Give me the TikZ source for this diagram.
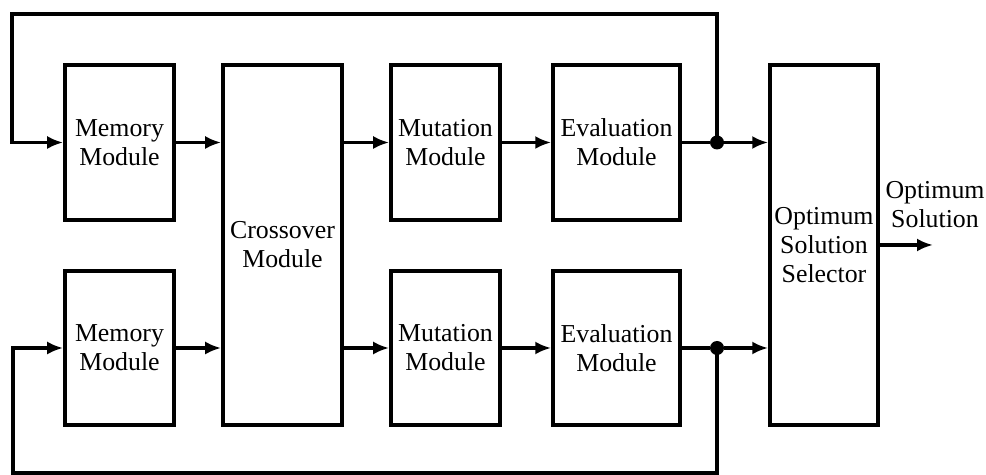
\documentclass[tikz,border=0pt]{standalone}
\usepackage{fontspec}
\setmainfont{Liberation Serif}
\usetikzlibrary{arrows.meta,positioning,calc}
\tikzset{
    block/.style={draw, line width=2pt, align=center, inner sep=1pt,
        font=\fontsize{14.7}{16.5}\selectfont},
    flow/.style={line width=1.9pt, -{Latex[length=3.2mm,width=2.6mm]}},
    wire/.style={line width=1.8pt},
    junction/.style={circle, fill, inner sep=0pt, minimum size=2.8mm}
}
\begin{document}
\begin{tikzpicture}
    \useasboundingbox (0,0) rectangle (19.72,9.5);

    % modules
    \node [block, minimum width=2.18cm, minimum height=3.1cm] (mem1) at (2.39,6.65) {Memory\\Module};
    \node [block, minimum width=2.18cm, minimum height=3.08cm] (mem2) at (2.39,2.54) {Memory\\Module};
    \node [block, minimum width=2.38cm, minimum height=7.2cm] (cross) at (5.65,4.6) {Crossover\\Module};
    \node [block, minimum width=2.18cm, minimum height=3.1cm] (mut1) at (8.91,6.65) {Mutation\\Module};
    \node [block, minimum width=2.18cm, minimum height=3.08cm] (mut2) at (8.91,2.54) {Mutation\\Module};
    \node [block, minimum width=2.54cm, minimum height=3.1cm] (eval1) at (12.33,6.65) {Evaluation\\Module};
    \node [block, minimum width=2.54cm, minimum height=3.08cm] (eval2) at (12.33,2.54) {Evaluation\\Module};
    \node [block, minimum width=2.16cm, minimum height=7.2cm] (sel) at (16.48,4.6) {Optimum\\Solution\\Selector};

    % junctions
    \node [junction] (j1) at (14.34,6.65) {};
    \node [junction] (j2) at (14.34,2.54) {};

    % output
    \coordinate (out) at (18.66,4.6);
    \node [align=center, font=\fontsize{14.7}{16.5}\selectfont, above=6pt of out, xshift=0.04cm] (outlabel) {Optimum\\Solution};

    % forward paths
    \draw [flow] (mem1) -- (mem1 -| cross.west);
    \draw [flow] (mem2) -- (mem2 -| cross.west);
    \draw [flow] (cross.east |- mut1) -- (mut1);
    \draw [flow] (cross.east |- mut2) -- (mut2);
    \draw [flow] (mut1) -- (eval1);
    \draw [flow] (mut2) -- (eval2);
    \draw [wire] (eval1) -- (j1);
    \draw [wire] (eval2) -- (j2);
    \draw [flow] (j1) -- (j1 -| sel.west);
    \draw [flow] (j2) -- (j2 -| sel.west);
    \draw [flow] (sel.east |- out) -- (out);

    % feedback loops
    \draw [wire, line cap=rect] (j1.center) -- (14.34,9.22) -- (0.24,9.22) -- (0.24,6.65);
    \draw [flow] (0.24,6.65) -- (mem1);
    \draw [wire, line cap=rect] (j2.center) -- (14.34,0.04) -- (0.26,0.04) -- (0.26,2.54);
    \draw [flow] (0.26,2.54) -- (mem2);
\end{tikzpicture}
\end{document}
